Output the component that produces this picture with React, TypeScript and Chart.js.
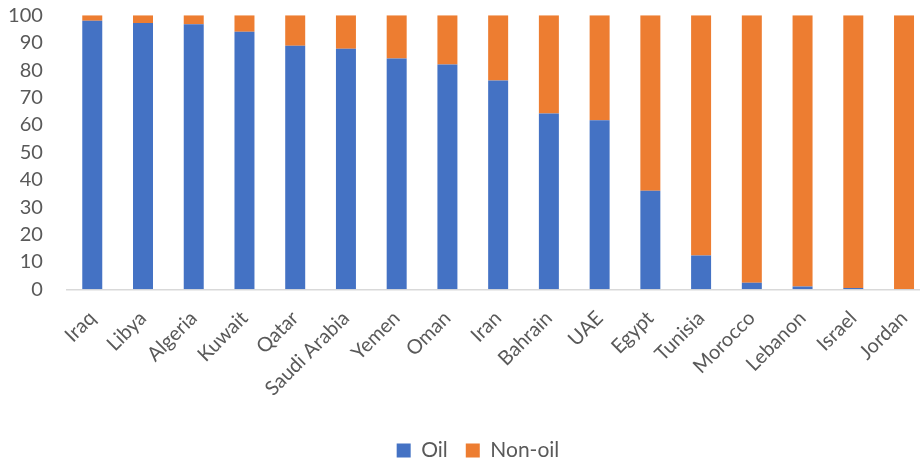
import React, { useEffect, useRef } from "react";
import { Chart, registerables } from "chart.js";

Chart.register(...registerables);

// Share of exports (%) by country
const countries = [
  "Iraq", "Libya", "Algeria", "Kuwait", "Qatar", "Saudi Arabia", "Yemen", "Oman",
  "Iran", "Bahrain", "UAE", "Egypt", "Tunisia", "Morocco", "Lebanon", "Israel", "Jordan",
];
const oilShare = [98.0, 97.2, 96.7, 94.0, 88.9, 87.8, 84.2, 82.0, 76.2, 64.2, 61.7, 36.0, 12.3, 2.4, 1.0, 0.5, 0.1];
const nonOilShare = [2.0, 2.8, 3.3, 6.0, 11.1, 12.2, 15.8, 18.0, 23.8, 35.8, 38.3, 64.0, 87.7, 97.6, 99.0, 99.5, 99.9];
const yTicks = [0, 10, 20, 30, 40, 50, 60, 70, 80, 90, 100];

const FONT = "Lato, 'Noto Sans', sans-serif";
const TEXT = "#595959";

// Nudges the bottom legend sideways so it sits under the middle of the figure
const legendShift = {
  id: "legendShift",
  afterLayout(chart: any) {
    const lg = chart.legend;
    if (lg) {
      lg.left += 13.3;
      lg.right += 13.3;
    }
  },
};

export default function App() {
  const ref = useRef<HTMLCanvasElement | null>(null);

  useEffect(() => {
    document.body.style.margin = "0";
    const canvas = ref.current;
    if (!canvas) return;
    const chart = new Chart(canvas, {
      type: "bar",
      data: {
        labels: countries,
        datasets: [
          { label: "Oil", data: oilShare, backgroundColor: "#4472C4", barPercentage: 0.394, categoryPercentage: 1 },
          { label: "Non-oil", data: nonOilShare, backgroundColor: "#ED7D31", barPercentage: 0.394, categoryPercentage: 1 },
        ],
      },
      plugins: [legendShift],
      options: {
        responsive: false,
        animation: false,
        layout: { padding: { top: 15.3, left: 0, right: 0.6, bottom: 0 } },
        plugins: {
          tooltip: { enabled: false },
          legend: {
            position: "bottom",
            labels: {
              boxWidth: 14,
              boxHeight: 14,
              padding: 18,
              color: TEXT,
              font: { family: FONT, size: 21 },
            },
          },
        },
        scales: {
          x: {
            stacked: true,
            grid: { display: false, drawTicks: false },
            border: { display: true, color: "#d9d9d9", width: 1.5 },
            ticks: {
              autoSkip: false,
              minRotation: 45,
              maxRotation: 45,
              color: TEXT,
              padding: 17,
              font: { family: FONT, size: 20 },
            },
            afterFit: (scale: any) => {
              scale.height = 132.7;
              scale.paddingLeft = 0;
              scale.paddingRight = 0;
            },
          },
          y: {
            stacked: true,
            min: 0,
            max: 100,
            grid: { display: false, drawTicks: false },
            border: { display: false },
            afterBuildTicks: (scale: any) => {
              scale.ticks = yTicks.map((v) => ({ value: v }));
            },
            ticks: {
              autoSkip: false,
              color: TEXT,
              padding: 24,
              font: { family: FONT, size: 20 },
            },
            afterFit: (scale: any) => {
              scale.width = 66.9;
              scale.paddingTop = 0;
              scale.paddingBottom = 0;
            },
          },
        },
      },
    });
    return () => chart.destroy();
  }, []);

  return (
    <div style={{ position: "fixed", left: 0, top: 0, width: 920, height: 463, overflow: "hidden", background: "#fff" }}>
      <canvas ref={ref} width={930} height={471} style={{ display: "block" }} />
    </div>
  );
}
